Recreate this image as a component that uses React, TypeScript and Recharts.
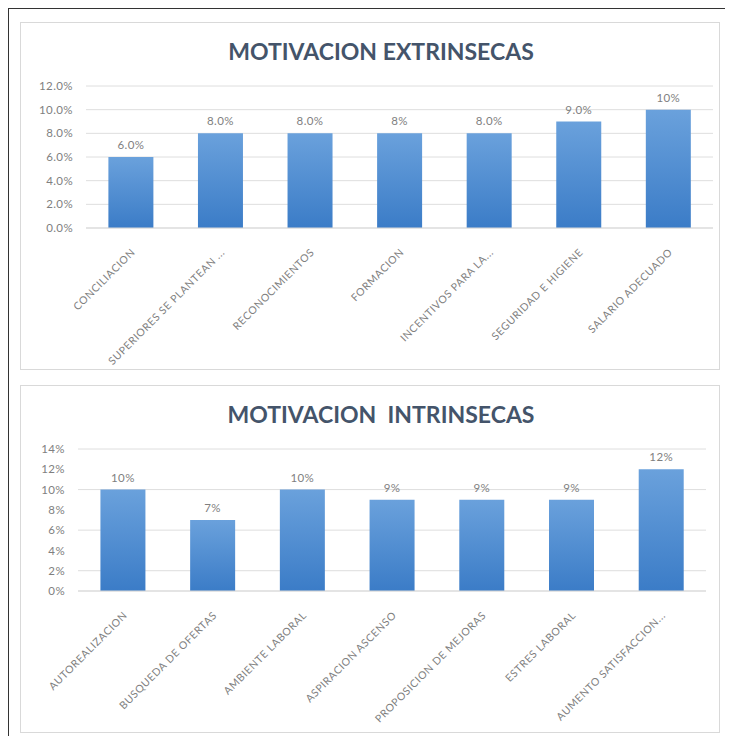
import React from "react";
import { BarChart, Bar, XAxis, YAxis, CartesianGrid, LabelList } from "recharts";

const extrinsecasCategories = [
  "CONCILIACION",
  "SUPERIORES SE PLANTEAN ...",
  "RECONOCIMIENTOS",
  "FORMACION",
  "INCENTIVOS PARA LA...",
  "SEGURIDAD E HIGIENE",
  "SALARIO ADECUADO",
];
const extrinsecasValues = [6, 8, 8, 8, 8, 9, 10];
const extrinsecasLabels = ["6.0%", "8.0%", "8.0%", "8%", "8.0%", "9.0%", "10%"];
const extrinsecasTicks = [0, 2, 4, 6, 8, 10, 12];

const intrinsecasCategories = [
  "AUTOREALIZACION",
  "BUSQUEDA DE OFERTAS",
  "AMBIENTE LABORAL",
  "ASPIRACION ASCENSO",
  "PROPOSICION DE MEJORAS",
  "ESTRES LABORAL",
  "AUMENTO SATISFACCION...",
];
const intrinsecasValues = [10, 7, 10, 9, 9, 9, 12];
const intrinsecasLabels = ["10%", "7%", "10%", "9%", "9%", "9%", "12%"];
const intrinsecasTicks = [0, 2, 4, 6, 8, 10, 12, 14];

const FONT = "Lato, 'Open Sans', sans-serif";
const TEXT = "#7f7f7f";

function RotatedTick(props: any) {
  const { x, y, payload } = props;
  return (
    <g transform={`translate(${x + 5},${y + 17})`}>
      <text
        x={0}
        y={0}
        textAnchor="end"
        transform="rotate(-45)"
        fontSize={10.5}
        letterSpacing={0.6}
        fill={TEXT}
        fontFamily={FONT}
      >
        {payload.value}
      </text>
    </g>
  );
}

interface PanelProps {
  title: string;
  categories: string[];
  values: number[];
  labels: string[];
  ticks: number[];
  decimals: number;
  top: number;
  right: number;
  gradId: string;
}

function Panel({ title, categories, values, labels, ticks, decimals, top, right, gradId }: PanelProps) {
  const data = categories.map((name, i) => ({ name, value: values[i], label: labels[i] }));
  return (
    <div
      style={{
        position: "absolute",
        left: 11,
        top,
        width: 698,
        height: 346,
        border: "1px solid #d9d9d9",
        background: "#fff",
      }}
    >
      <div
        style={{
          position: "absolute",
          left: 22,
          right: 0,
          top: 14,
          textAlign: "center",
          fontFamily: FONT,
          fontWeight: 700,
          fontSize: 23,
          color: "#44546a",
          whiteSpace: "pre",
        }}
      >
        {title}
      </div>
      <BarChart
        width={698}
        height={346}
        data={data}
        margin={{ top: 63, right, bottom: 0, left: 0 }}
        barCategoryGap="25%"
      >
        <defs>
          <linearGradient id={gradId} x1="0" y1="0" x2="0" y2="1">
            <stop offset="0%" stopColor="#6aa1dc" />
            <stop offset="100%" stopColor="#3b7cc7" />
          </linearGradient>
        </defs>
        <CartesianGrid vertical={false} stroke="#dedede" />
        <XAxis
          dataKey="name"
          interval={0}
          height={141}
          tick={<RotatedTick />}
          tickLine={false}
          axisLine={{ stroke: "#d9d9d9" }}
        />
        <YAxis
          domain={[ticks[0], ticks[ticks.length - 1]]}
          ticks={ticks}
          width={decimals ? 65 : 57}
          tickFormatter={(v: number) => `${v.toFixed(decimals)}%`}
          tick={{ fontSize: 11.5, fill: TEXT, fontFamily: FONT, letterSpacing: 0.4 }}
          tickMargin={7}
          tickLine={false}
          axisLine={false}
        />
        <Bar dataKey="value" fill={`url(#${gradId})`} isAnimationActive={false}>
          <LabelList
            dataKey="label"
            position="top"
            offset={8}
            style={{ fontSize: 11.5, fill: TEXT, fontFamily: FONT, letterSpacing: 0.4 }}
          />
        </Bar>
      </BarChart>
    </div>
  );
}

export default function App() {
  return (
    <div
      style={{
        position: "relative",
        width: 740,
        height: 740,
        border: "1px solid #333",
        boxSizing: "border-box",
        background: "#fff",
      }}
    >
      <Panel
        title="MOTIVACION EXTRINSECAS"
        categories={extrinsecasCategories}
        values={extrinsecasValues}
        labels={extrinsecasLabels}
        ticks={extrinsecasTicks}
        decimals={1}
        top={13}
        right={6}
        gradId="gradExt"
      />
      <Panel
        title="MOTIVACION  INTRINSECAS"
        categories={intrinsecasCategories}
        values={intrinsecasValues}
        labels={intrinsecasLabels}
        ticks={intrinsecasTicks}
        decimals={0}
        top={376}
        right={13}
        gradId="gradInt"
      />
    </div>
  );
}
